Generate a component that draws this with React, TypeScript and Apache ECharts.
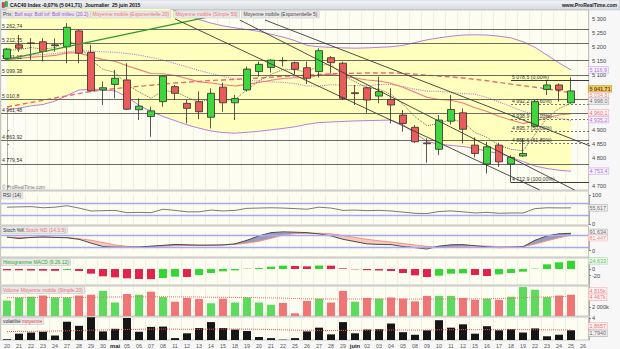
import React, { useEffect, useRef } from "react";
import * as echarts from "echarts";

const days = ["20","21","22","23","24","27","28","29","30","mai","05","06","07","08","11","12","13","14","15","18","19","20","21","22","25","26","27","28","29","juin","02","03","04","05","08","09","10","11","12","15","16","17","18","19","22","23","24","25","26"];

const openP = [5158,5207,5214,5218,5204,5200,5257,5180,5045,5065,5081,4974,4950,5003,5057,4997,5003,4947,5055,4999,5045,5111,5126,5151,5143,5125,5111,5161,5141,5035,5053,5023,5011,4955,4911,4855,4832,4933,4963,4847,4779,4847,4779,4808,4915,5047,5063,4999];
const closeP = [5192,5195,5212,5183,5207,5270,5177,5042,5053,5087,4976,4987,4970,5095,5033,4979,4967,5033,4999,5014,5120,5137,5152,5150,5119,5087,5186,5143,5015,5032,5009,5039,4991,4925,4859,4852,4937,4975,4904,4817,4841,4787,4803,4817,5003,5063,5045,5041.71];
const highP = [5196,5242,5231,5231,5230,5285,5262,5207,5075,5117,5141,5015,4985,5097,5063,5009,5040,5051,5071,5027,5129,5147,5155,5162,5147,5147,5195,5167,5147,5063,5057,5093,5051,4973,4919,4871,4955,5027,4979,4875,4859,4855,4811,4871,5009,5078,5069,5090];
const lowP = [5150,5182,5153,5147,5183,5141,5141,5039,4991,5015,4973,4937,4877,4985,5009,4925,4940,4907,4967,4937,5039,5093,5107,5129,5102,5066,5090,5105,5009,4991,4963,4997,4925,4895,4855,4784,4811,4921,4853,4803,4745,4769,4713,4805,4912,5027,5003,4997];

const bbUpper = [5340,5345,5345,5345,5345,5350,5345,5345,5350,5355,5360,5360,5355,5345,5330,5315,5298,5285,5275,5268,5262,5255,5245,5235,5222,5205,5200,5198,5196,5195,5196,5198,5200,5205,5215,5225,5232,5238,5242,5243,5242,5238,5232,5218,5198,5170,5142,5116.9];
const bbLower = [4973,4980,4988,4993,5005,5025,5045,5047,5045,5042,5020,4990,4968,4950,4935,4920,4908,4898,4892,4890,4893,4897,4902,4907,4913,4922,4928,4930,4932,4934,4935,4936,4937,4920,4890,4860,4850,4846,4842,4835,4825,4817,4803,4788,4772,4763,4757,4753.4];
const bbMid = [5160,5165,5170,5172,5176,5182,5186,5184,5182,5180,5176,5170,5162,5152,5140,5128,5115,5104,5094,5084,5080,5077,5074,5072,5068,5059,5059,5064,5062,5060,5061,5064,5065,5057,5048,5041,5040,5037,5032,5030,5018,5002,4986,4968,4958,4952,4944,4935.2];
const ema20 = [5154,5158,5163,5165,5169,5178,5178,5165,5154,5148,5132,5118,5104,5103,5097,5086,5074,5070,5064,5059,5065,5072,5080,5086,5089,5089,5098,5102,5094,5088,5081,5077,5069,5055,5037,5019,5011,5008,4998,4981,4968,4951,4937,4925,4933,4945,4955,4960.1];
const sma50 = [4984,4992,5000,5008,5016,5024,5032,5040,5045,5050,5054,5058,5062,5066,5070,5073,5076,5079,5081,5083,5086,5088,5091,5094,5096,5098,5101,5103,5104,5105,5106,5106,5106,5105,5102,5098,5095,5092,5088,5083,5078,5072,5066,5060,5055,5049,5042,5034.5];
const ema5 = [5187,5190,5197,5192,5197,5221,5207,5152,5119,5108,5064,5038,5015,5042,5039,5019,5002,5012,5008,5010,5047,5077,5101,5118,5118,5108,5134,5137,5096,5075,5053,5048,5029,4994,4949,4917,4924,4941,4929,4892,4875,4846,4832,4827,4886,4945,4978,4998.0];

const hLevels = [5262.74, 5212.75, 5151.12, 5099.38, 5010.8, 4961.48, 4863.92, 4779.54];
const fibLevels = [5078.5, 4992.2, 4938.9, 4895.7, 4852.6, 4712.9];
const fibPct = ["0,00%", "23,60%", "38,20%", "50,00%", "61,80%", "100,00%"];
const fibStart = 42;
const trendGreen = [[-0.2, 5153], [16.5, 5305]];
const trendBlack = [
  [[14.0, 5300], [44.4, 4686]],
  [[19.4, 5296], [47.3, 4686]],
  [[21.5, 5296], [48.6, 4844]],
];
const priceTicks = [5300, 5250, 5200, 5150, 5100, 4900, 4850, 4800, 4700];

const rsi = [58,59,60,56,58,63,55,45,46,47,39,40,39,51,47,42,42,48,45,47,54,55,56,55,53,51,58,55,47,48,46,47,45,41,37,36,43,45,42,38,40,37,38,38,53,56,55.5,55.617];
const stochK = [72,64,70,73,70,68,60,40,22,19,18,19,24,28,33,31,29,29,30,36,55,78,95,100,98,95,88,78,60,48,36,33,32,22,16,9,24,31,32,26,20,16,18,21,55,78,89,91.634];
const stochD = [70,70,69,70,70,70,63,55,43,30,23,21,22,24,26,28,29,30,31,33,40,50,65,82,90,92,92,89,80,70,60,52,46,38,30,23,19,19,22,25,24,22,21,21,35,52,68,81.447];
const macdHist = [-4,-4,-4.5,-5,-5.5,-3,-6,-14,-22,-25,-28,-30,-30.5,-27,-23,-24,-18,-12,-7,-4,1,3,7,10,9,8,10.5,10,2,-1,-3.5,-4.5,-6,-12,-19,-24,-20,-14,-13,-18,-21,-16,-12,-8,1,14,20,24.633];
const volume = [3500,4200,4375,4640,4200,4200,4640,4815,5690,3060,4990,4815,5510,4290,3240,4110,3850,2890,3940,3060,4200,3060,2540,2975,610,3410,3940,3060,5690,3240,4110,3940,4200,3940,3325,4550,4550,4550,4110,3675,3940,3675,4375,6560,5950,4290,4640,4815];
const volumeMA = [4150,4160,4170,4180,4190,4200,4220,4240,4280,4300,4320,4330,4350,4360,4340,4320,4300,4260,4230,4200,4190,4150,4100,4050,3950,3900,3870,3850,3880,3860,3850,3840,3840,3830,3820,3830,3850,3870,3880,3870,3900,3950,4000,4150,4250,4320,4400,4467];
const volat = [0.14,1.17,1.38,1.52,0.83,3.38,2.62,4.21,1.59,2.07,4.07,1.52,2.42,2.48,0.35,1.24,2.21,3.31,2.21,1.93,1.66,0.55,0.35,0.07,0.35,1.59,2.28,1.04,3.31,1.24,1.93,2.0,3.04,1.45,0.97,1.79,3.66,2.28,2.90,1.17,2.55,1.79,2.0,1.38,2.14,0.69,0.97,1.794];
const volatMA = [1.55,1.58,1.6,1.63,1.65,1.7,1.75,1.82,1.85,1.88,1.95,1.98,2.0,2.02,2.0,1.98,1.98,2.0,2.02,2.02,2.0,1.98,1.92,1.88,1.82,1.8,1.78,1.75,1.78,1.78,1.8,1.82,1.85,1.85,1.84,1.85,1.9,1.9,1.92,1.9,1.92,1.92,1.93,1.92,1.9,1.88,1.87,1.8657];

const FONT = '"Liberation Sans", Arial, sans-serif';
const LF = 4.9; // legend font size
const last = (a: number[]) => a[a.length - 1];

function fr(v: number, dec: number): string {
  const neg = v < 0;
  const s = Math.abs(v).toFixed(dec);
  const parts = s.split(".");
  const ip = parts[0].replace(/\B(?=(\d{3})+(?!\d))/g, " ");
  return (neg ? "-" : "") + ip + (parts[1] ? "," + parts[1] : "");
}
function decs(v: number) {
  const p = String(v).split(".");
  return p[1] ? p[1].length : 0;
}

function tagItem(val: number, text: string, color: string, bg: string, border: string, dy = 0, bold = false) {
  return {
    value: [48, val],
    label: {
      show: true, position: "right", distance: 5, formatter: text, color,
      backgroundColor: bg, borderColor: border, borderWidth: 0.6, padding: [1, 1, 0, 1],
      fontSize: 5.4, fontWeight: bold ? "bold" : "normal", offset: [0, dy], fontFamily: FONT,
    },
  };
}
function tagSeries(g: number, items: any[]) {
  return {
    type: "scatter", xAxisIndex: g, yAxisIndex: g, symbolSize: 1, silent: true, z: 30,
    itemStyle: { color: "transparent" }, data: items,
  };
}

const PANELS = [
  { y: 10, h: 180 },
  { y: 191, h: 34 },
  { y: 226, h: 31 },
  { y: 258, h: 27 },
  { y: 286, h: 30 },
  { y: 317, h: 23 },
];
const GRIDS = [
  { top: 10, height: 180 },
  { top: 195, height: 29 },
  { top: 231.7, height: 19 },
  { top: 258, height: 27 },
  { top: 286, height: 30 },
  { top: 317, height: 23 },
];

function legendText(x: number, y: number, text: string, fill: string, bold = false) {
  return {
    type: "text", x, y, z: 100,
    style: {
      text, fill, font: `${bold ? "bold " : ""}${LF}px ${FONT}`, verticalAlign: "middle",
      backgroundColor: "#e9e9e9", borderColor: "#c4c4c4", borderWidth: 0.5, padding: [1, 1.5, 0.5, 1.5],
    },
  };
}
function richLegend(x: number, y: number, a: string, ca: string, b: string, cb: string) {
  return {
    type: "text", z: 100, x, y,
    style: {
      text: `{a|${a}} {b|${b}}`, font: `${LF}px ${FONT}`, verticalAlign: "middle",
      backgroundColor: "#e9e9e9", borderColor: "#c4c4c4", borderWidth: 0.5, padding: [1, 1.5, 0.5, 1.5],
      rich: { a: { fill: ca, font: `${LF}px ${FONT}` }, b: { fill: cb, font: `${LF}px ${FONT}` } },
    },
  };
}

function buildOption() {
  const green = "#3fd63f";
  const red = "#e85c5c";
  const grid = GRIDS.map((g) => ({ left: 1, width: 588, top: g.top, height: g.height, show: false }));

  const xAxis: any[] = GRIDS.map((_, gi) => ({
    type: "category", gridIndex: gi, data: days, boundaryGap: true,
    axisLine: { show: false }, axisTick: { show: false },
    splitLine: { show: true, interval: 0, lineStyle: { color: "#e6e6dc", width: 0.6 } },
    axisLabel: gi === 5 ? {
      show: true, interval: 0, fontSize: 5.3, color: "#555", margin: 3, fontFamily: FONT,
      formatter: (v: string) => (v === "mai" || v === "juin" ? `{b|${v}}` : v),
      rich: { b: { fontWeight: "bold", color: "#222", fontSize: 5.8, fontFamily: FONT } },
    } : { show: false },
  }));
  xAxis.push({ type: "value", gridIndex: 0, min: -0.5, max: 48.5, show: false });

  const yBase = (gi: number, extra: any) => ({
    type: "value", gridIndex: gi, position: "right",
    axisLine: { show: true, lineStyle: { color: "#9a9a9a", width: 0.8 } },
    axisTick: { show: true, length: 2, lineStyle: { color: "#888" } },
    splitLine: { show: false },
    axisLabel: { fontSize: 5.6, color: "#444", margin: 3, fontFamily: FONT },
    ...extra,
  });
  const lab = (cv: number[], fmt?: (v: number) => string) => ({
    axisLabel: { fontSize: 5.6, color: "#444", margin: 3, fontFamily: FONT, customValues: cv, formatter: fmt },
    axisTick: { show: true, length: 2, customValues: cv, lineStyle: { color: "#888" } },
  });
  const yAxis = [
    yBase(0, { min: 4686, max: 5332, ...lab(priceTicks, (v: number) => fr(v, 0)) }),
    yBase(1, { min: 0, max: 100, interval: 100 }),
    yBase(2, { min: 0, max: 100, ...lab([0]) }),
    yBase(3, { min: -48, max: 33, ...lab([0, -20]) }),
    yBase(4, { min: 0, max: 6800, ...lab([2000], (v: number) => fr(v, 0) + "k") }),
    yBase(5, { min: 0, max: 4.25, ...lab([4]) }),
  ];

  const candleData = openP.map((o, i) => [o, closeP[i], lowP[i], highP[i]]);
  const bandDiff = bbUpper.map((u, i) => u - bbLower[i]);
  const lineS = (data: number[], color: string, type: any = "solid", width = 1, z = 3, gi = 0) => ({
    type: "line", xAxisIndex: gi, yAxisIndex: gi, data, symbol: "none", silent: true, z,
    lineStyle: { color, type, width },
  });

  const stochFill = stochK.slice(0, -1).map((k, i) => [i, k, stochD[i], stochK[i + 1], stochD[i + 1]]);

  const series: any[] = [
    { type: "line", xAxisIndex: 0, yAxisIndex: 0, data: bbLower, stack: "bb", symbol: "none", silent: true, z: 1, lineStyle: { opacity: 0 } },
    { type: "line", xAxisIndex: 0, yAxisIndex: 0, data: bandDiff, stack: "bb", symbol: "none", silent: true, z: 1,
      lineStyle: { opacity: 0 }, areaStyle: { color: "#ffffbe", opacity: 1 } },
    { ...lineS(bbMid, "#b77fe0", "dotted", 1.1, 3),
      markLine: {
        silent: true, symbol: ["none", "none"], animation: false,
        lineStyle: { color: "#5a5a5a", width: 0.9, type: "solid" },
        label: { show: true, position: "insideStartTop", distance: 1, fontSize: 5.2, color: "#333", fontFamily: FONT,
          formatter: (p: any) => fr(p.value, decs(p.value)) },
        data: hLevels.map((v) => ({ yAxis: v })),
      } },
    lineS(bbUpper, "#b77fe0", "solid", 1, 3),
    lineS(bbLower, "#b77fe0", "solid", 1, 3),
    lineS(ema20, "#ef7b7b", "solid", 1.1, 3),
    lineS(sma50, "#ee6a6a", [5, 3], 1.4, 3),
    lineS(ema5, "#6a6a6a", "dotted", 1, 3),
    {
      type: "candlestick", xAxisIndex: 0, yAxisIndex: 0, data: candleData, barWidth: 8, silent: true, z: 5,
      itemStyle: { color: green, color0: red, borderColor: "#2f2f2f", borderColor0: "#3a2a2a", borderWidth: 0.8 },
    },
    { type: "line", xAxisIndex: 6, yAxisIndex: 0, data: trendGreen, symbol: "none", silent: true, z: 6,
      lineStyle: { color: "#2f9a2f", width: 1.3 } },
    ...trendBlack.map((seg, si) => ({
      type: "line", xAxisIndex: 6, yAxisIndex: 0, data: seg, symbol: "none", silent: true, z: 6,
      lineStyle: { color: "#3a3a3a", width: 0.9 },
      markLine: si === 0 ? {
        silent: true, symbol: ["none", "none"], animation: false,
        label: { show: true, position: "insideStartTop", distance: 1, fontSize: 5.2, color: "#333", fontFamily: FONT },
        data: fibLevels.map((v, j) => [
          { coord: [fibStart, v], label: { formatter: `${fr(v, 1)} (${fibPct[j]})` },
            lineStyle: { color: j === 0 || j === 5 ? "#3a3a3a" : "#555", type: j === 0 || j === 5 ? "solid" : [2, 2], width: j === 0 || j === 5 ? 1 : 0.8 } },
          { coord: [48.5, v] },
        ]),
      } : undefined,
    })),
    tagSeries(0, [
      tagItem(last(bbUpper), fr(last(bbUpper), 1), "#9a4fd0", "#f6effc", "#c9a6e6"),
      tagItem(last(closeP), fr(last(closeP), 2), "#222", "#f3c23c", "#c79419", -2, true),
      tagItem(last(sma50), fr(last(sma50), 1), "#ee6a6a", "#fff4f4", "#f0a8a8", 2.5),
      tagItem(last(ema5), fr(last(ema5), 1), "#444", "#efefef", "#a8a8a8", -2),
      tagItem(last(ema20), fr(last(ema20), 1), "#e04848", "#fff4f4", "#f0a8a8", -1),
      tagItem(last(bbMid), fr(last(bbMid), 1), "#9a4fd0", "#f6effc", "#c9a6e6", -1),
      tagItem(last(bbLower), fr(last(bbLower), 1), "#9a4fd0", "#f6effc", "#c9a6e6"),
    ]),

    // RSI
    { ...lineS(rsi, "#7a7a7a", "solid", 1, 3, 1),
      markLine: { silent: true, symbol: ["none", "none"], animation: false, label: { show: false },
        lineStyle: { color: "#a9a9f2", width: 1.3, type: "solid" }, data: [{ yAxis: 70 }, { yAxis: 30 }] } },
    tagSeries(1, [tagItem(last(rsi), fr(last(rsi), 3), "#444", "#efefef", "#a8a8a8")]),

    // Stochastic
    {
      type: "custom", xAxisIndex: 2, yAxisIndex: 2, data: stochFill, silent: true, z: 2,
      encode: { x: 0, y: 1 },
      renderItem: (params: any, api: any) => {
        const i = api.value(0), k0 = api.value(1), d0 = api.value(2), k1 = api.value(3), d1 = api.value(4);
        const a = api.coord([i, k0]), b = api.coord([i + 1, k1]), c = api.coord([i + 1, d1]), d = api.coord([i, d0]);
        const up = "rgba(96,96,158,0.62)", dn = "rgba(242,150,138,0.5)";
        const df0 = k0 - d0, df1 = k1 - d1;
        if (df0 * df1 >= 0) {
          return { type: "polygon", shape: { points: [a, b, c, d] }, style: { fill: df0 + df1 >= 0 ? up : dn } };
        }
        const t = df0 / (df0 - df1);
        const P = [a[0] + t * (b[0] - a[0]), a[1] + t * (b[1] - a[1])];
        return { type: "group", children: [
          { type: "polygon", shape: { points: [a, P, d] }, style: { fill: df0 > 0 ? up : dn } },
          { type: "polygon", shape: { points: [P, b, c] }, style: { fill: df1 > 0 ? up : dn } },
        ] };
      },
    },
    { ...lineS(stochD, "#f08a80", "solid", 0.9, 3, 2),
      markLine: { silent: true, symbol: ["none", "none"], animation: false, label: { show: false },
        lineStyle: { color: "#a9a9f2", width: 1.3, type: "solid" }, data: [{ yAxis: 80 }, { yAxis: 20 }] } },
    lineS(stochK, "#4a4a4a", "solid", 1, 4, 2),
    tagSeries(2, [
      tagItem(last(stochK), fr(last(stochK), 3), "#444", "#efefef", "#a8a8a8", -1),
      tagItem(last(stochD), fr(last(stochD), 3), "#ee6a6a", "#fff4f4", "#f0a8a8", 2.5),
    ]),

    // MACD histogram
    {
      type: "bar", xAxisIndex: 3, yAxisIndex: 3, barWidth: 8, silent: true, z: 3,
      data: macdHist.map((v, i) => ({ value: v, itemStyle: { color: i > 0 && v > macdHist[i - 1] ? "#30d830" : "#e3234b" } })),
    },
    tagSeries(3, [tagItem(last(macdHist), fr(last(macdHist), 3), "#2aa82a", "#eefcee", "#9ad69a")]),

    // Volume
    {
      type: "bar", xAxisIndex: 4, yAxisIndex: 4, barWidth: 8, silent: true, z: 3,
      data: volume.map((v, i) => ({ value: v, itemStyle: { color: i === 0 || closeP[i] >= closeP[i - 1] ? "#5cdc5c" : "#f07676" } })),
    },
    lineS(volumeMA, "#f06a6a", "dotted", 1, 4, 4),
    tagSeries(4, [
      tagItem(last(volume), fr(last(volume), 0) + "k", "#e85050", "#fff4f4", "#f0a8a8", -4),
      tagItem(last(volumeMA), fr(last(volumeMA), 0) + "k", "#e85050", "#fff4f4", "#f0a8a8", 1),
    ]),

    // Volatility
    { type: "bar", xAxisIndex: 5, yAxisIndex: 5, barWidth: 8, silent: true, z: 3, data: volat, itemStyle: { color: "#161616" } },
    lineS(volatMA, "#f05050", "dotted", 1, 4, 5),
    tagSeries(5, [
      tagItem(last(volatMA), fr(last(volatMA), 4), "#e84040", "#fff4f4", "#f0a8a8", -4),
      tagItem(last(volat), fr(last(volat), 4), "#444", "#efefef", "#a8a8a8", 3),
    ]),
  ];

  const hdrFont = `bold 5px ${FONT}`;
  const graphic: any[] = [
    { type: "rect", z: -10, shape: { x: 0, y: 0, width: 620, height: 349 }, style: { fill: "#f7f7f7" } },
    { type: "rect", z: -9, shape: { x: 0, y: 0, width: 620, height: 10 },
      style: { fill: new echarts.graphic.LinearGradient(0, 0, 0, 1, [{ offset: 0, color: "#f1f3f6" }, { offset: 1, color: "#d5dae0" }]), stroke: "#b9bec4", lineWidth: 0.5 } },
    ...PANELS.map((p) => ({ type: "rect", z: -8, shape: { x: 0.5, y: p.y, width: 588, height: p.h },
      style: { fill: "#fdfdf1", stroke: "#b8b8b8", lineWidth: 0.8 } })),
    { type: "rect", z: 100, shape: { x: 2, y: 2.5, width: 2.5, height: 5 }, style: { fill: "#e24848", stroke: "#444", lineWidth: 0.4 } },
    { type: "rect", z: 100, shape: { x: 5, y: 1.5, width: 2.5, height: 5 }, style: { fill: "#36c836", stroke: "#444", lineWidth: 0.4 } },
    { type: "text", z: 100, x: 10, y: 5.2, style: { text: "CAC40 Index", fill: "#111", font: hdrFont, verticalAlign: "middle" } },
    { type: "text", z: 100, x: 42, y: 5.2, style: { text: "-0,07% (5 041,71)", fill: "#111", font: hdrFont, verticalAlign: "middle" } },
    { type: "text", z: 100, x: 85, y: 5.2, style: { text: "Journalier", fill: "#111", font: hdrFont, verticalAlign: "middle" } },
    { type: "text", z: 100, x: 112, y: 5.2, style: { text: "25 juin 2015", fill: "#111", font: hdrFont, verticalAlign: "middle" } },
    { type: "text", z: 100, x: 617, y: 5.2, style: { text: "www.ProRealTime.com", fill: "#222", font: hdrFont, align: "right", verticalAlign: "middle" } },
    legendText(1.5, 14.5, "Prix", "#333"),
    legendText(13, 14.5, "Boll sup: Boll inf: Boll milieu (20.2)", "#a24fd6"),
    legendText(91, 14.5, "Moyenne mobile (Exponentielle 20)", "#ee7070"),
    legendText(174, 14.5, "Moyenne mobile (Simple 50)", "#ee7070"),
    legendText(242, 14.5, "Moyenne mobile (Exponentielle 5)", "#444"),
    { type: "text", z: 100, x: 2, y: 187, style: { text: "© ProRealTime.com", fill: "#777", font: `4.8px ${FONT}`, verticalAlign: "middle" } },
    legendText(1.5, 195.5, "RSI (14)", "#333"),
    richLegend(1.5, 230, "Stoch %K", "#333", "Stoch %D (14.3.5)", "#ee7070"),
    legendText(1.5, 262, "Histogramme MACD (9.26.12)", "#2aa82a"),
    richLegend(1.5, 290, "Volume", "#ee7070", "Moyenne mobile (Simple 20)", "#ee7070"),
    richLegend(1.5, 321, "volatilité", "#333", "moyenne", "#e84040"),
  ];

  return {
    animation: false,
    textStyle: { fontFamily: FONT },
    grid, xAxis, yAxis, series, graphic,
  };
}

export default function App() {
  const ref = useRef<HTMLDivElement>(null);
  useEffect(() => {
    document.body.style.margin = "0";
    const chart = echarts.init(ref.current!, null, { renderer: "svg", width: 620, height: 349 });
    chart.setOption(buildOption() as any);
    return () => chart.dispose();
  }, []);
  return <div ref={ref} style={{ width: 620, height: 349 }} />;
}
